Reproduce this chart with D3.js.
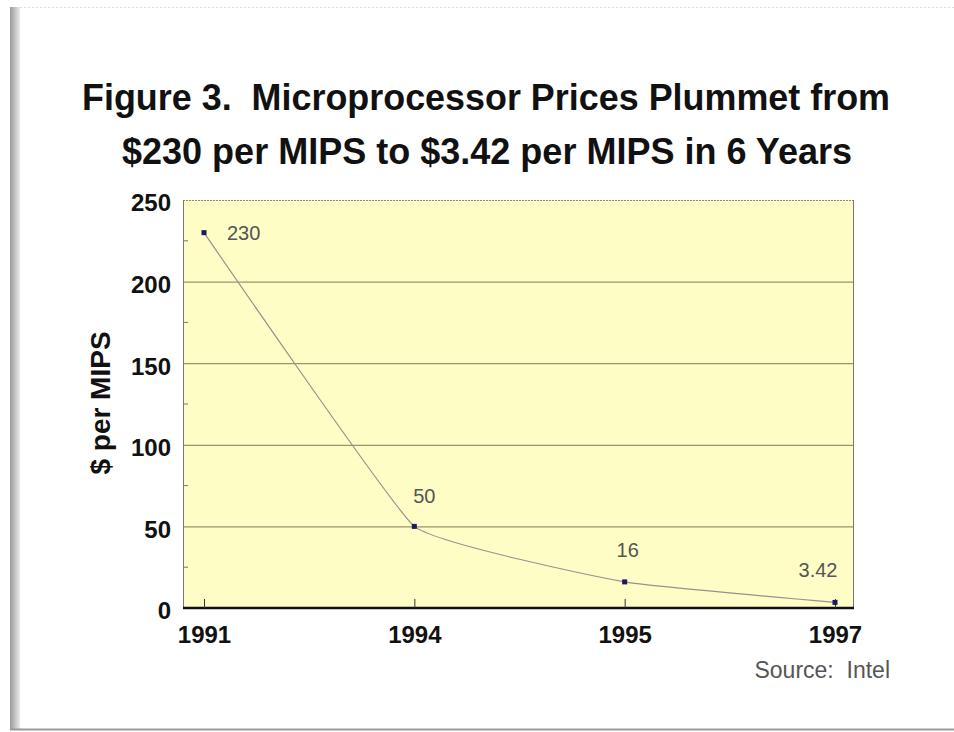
<!DOCTYPE html>
<meta charset="utf-8">
<title>Microprocessor Prices</title>
<style>
body { margin: 0; background: #fff; }
svg { display: block; font-family: "Liberation Sans", Arial, sans-serif; }
text { white-space: pre; }
</style>
<body>
<script src="https://d3js.org/d3.v7.min.js"></script>
<script>

var years = ["1991", "1994", "1995", "1997"];
var prices = [230, 50, 16, 3.42];
var priceLabels = ["230", "50", "16", "3.42"];
var yTicks = [0, 50, 100, 150, 200, 250];

var width = 954,
    height = 732;

// plot area
var plotLeft = 183, plotRight = 854, plotTop = 200, plotBottom = 608;

var svg = d3.select("body").append("svg")
    .attr("width", width)
    .attr("height", height);

// page frame: grey left edge, dotted top, bottom rule
var grad = svg.append("defs").append("linearGradient")
    .attr("id", "edge");
grad.append("stop").attr("offset", "0%").attr("stop-color", "#9a9a9a");
grad.append("stop").attr("offset", "100%").attr("stop-color", "#ececec");

svg.append("rect")
    .attr("x", 10).attr("y", 7)
    .attr("width", 10).attr("height", 723)
    .attr("fill", "url(#edge)");
svg.append("line")
    .attr("x1", 20).attr("x2", 954)
    .attr("y1", 7.5).attr("y2", 7.5)
    .attr("stroke", "#ddd")
    .attr("stroke-dasharray", "2,2");
svg.append("line")
    .attr("x1", 10).attr("x2", 954)
    .attr("y1", 729.5).attr("y2", 729.5)
    .attr("stroke", "#999")
    .attr("stroke-width", 2);

// title
svg.append("text")
    .attr("x", 82).attr("y", 110)
    .attr("textLength", 808)
    .attr("lengthAdjust", "spacingAndGlyphs")
    .style("font-size", "36px")
    .style("font-weight", "bold")
    .attr("fill", "#111")
    .text("Figure 3.  Microprocessor Prices Plummet from");
svg.append("text")
    .attr("x", 122).attr("y", 164)
    .attr("textLength", 730)
    .attr("lengthAdjust", "spacingAndGlyphs")
    .style("font-size", "36px")
    .style("font-weight", "bold")
    .attr("fill", "#111")
    .text("$230 per MIPS to $3.42 per MIPS in 6 Years");

var x = d3.scalePoint()
    .domain(years)
    .range([204, 835]);

var y = d3.scaleLinear()
    .domain([0, 250])
    .range([plotBottom, plotTop]);

// plot background
svg.append("rect")
    .attr("x", plotLeft).attr("y", plotTop)
    .attr("width", plotRight - plotLeft).attr("height", plotBottom - plotTop)
    .attr("fill", "#fefdc6");

// grid lines
svg.append("g")
    .selectAll("line")
    .data(yTicks.filter(function(d) { return d > 0 && d < 250; }))
  .enter().append("line")
    .attr("x1", plotLeft).attr("x2", plotRight)
    .attr("y1", function(d) { return y(d) + 0.5; })
    .attr("y2", function(d) { return y(d) + 0.5; })
    .attr("stroke", "#98946c")
    .attr("stroke-width", 1.3);

// plot border top / right
svg.append("line")
    .attr("x1", plotLeft).attr("x2", plotRight)
    .attr("y1", plotTop + 0.5).attr("y2", plotTop + 0.5)
    .attr("stroke", "#8a8a7a")
    .attr("stroke-dasharray", "2,1");
svg.append("line")
    .attr("x1", plotRight - 0.5).attr("x2", plotRight - 0.5)
    .attr("y1", plotTop).attr("y2", plotBottom)
    .attr("stroke", "#777");

// y axis
var yAxis = svg.append("g")
    .attr("transform", "translate(" + plotLeft + ",0)")
    .call(d3.axisLeft(y).tickValues(yTicks).tickSize(0).tickPadding(12));
yAxis.select(".domain").attr("stroke", "#777");
yAxis.selectAll("text")
    .attr("dy", "0.45em")
    .style("font-size", "24px")
    .style("font-weight", "bold")
    .attr("fill", "#111");

// minor inside ticks on y
svg.append("g")
    .selectAll("line")
    .data(d3.range(25, 250, 50))
  .enter().append("line")
    .attr("x1", plotLeft).attr("x2", plotLeft + 5)
    .attr("y1", function(d) { return y(d); })
    .attr("y2", function(d) { return y(d); })
    .attr("stroke", "#777");

// x axis
var xAxis = svg.append("g")
    .attr("transform", "translate(0," + plotBottom + ")")
    .call(d3.axisBottom(x).tickSizeInner(-9).tickSizeOuter(0).tickPadding(18));
xAxis.select(".domain")
    .attr("d", "M" + plotLeft + ",0H" + plotRight)
    .attr("stroke", "#111")
    .attr("stroke-width", 2.5);
xAxis.selectAll(".tick line").attr("stroke", "#333");
xAxis.selectAll("text")
    .style("font-size", "24px")
    .style("font-weight", "bold")
    .attr("fill", "#111");

// y label
svg.append("text")
    .attr("transform", "translate(110,403) rotate(-90)")
    .attr("text-anchor", "middle")
    .style("font-size", "28px")
    .style("font-weight", "bold")
    .attr("fill", "#111")
    .text("$ per MIPS");

// line
var pts = years.map(function(d, i) { return [x(d), y(prices[i])]; });

svg.append("path")
    .datum(pts)
    .attr("fill", "none")
    .attr("stroke", "#9a9090")
    .attr("stroke-width", 1.2)
    .attr("d", d3.line().curve(d3.curveCardinal.tension(0.7)));

svg.append("g")
    .selectAll("rect")
    .data(pts)
  .enter().append("rect")
    .attr("x", function(d) { return d[0] - 2.5; })
    .attr("y", function(d) { return d[1] - 2.5; })
    .attr("width", 5).attr("height", 5)
    .attr("fill", "#1a1a60");

// value labels
var labelOffsets = [[23, 7, "start"], [10, -23, "middle"], [3, -25, "middle"], [-17, -25, "middle"]];
svg.append("g")
    .selectAll("text")
    .data(pts)
  .enter().append("text")
    .attr("x", function(d, i) { return d[0] + labelOffsets[i][0]; })
    .attr("y", function(d, i) { return d[1] + labelOffsets[i][1]; })
    .attr("text-anchor", function(d, i) { return labelOffsets[i][2]; })
    .style("font-size", "20px")
    .attr("fill", "#555")
    .text(function(d, i) { return priceLabels[i]; });

// source
svg.append("text")
    .attr("x", 890).attr("y", 678)
    .attr("text-anchor", "end")
    .style("font-size", "23px")
    .attr("fill", "#555")
    .text("Source:  Intel");

</script>
</body>
